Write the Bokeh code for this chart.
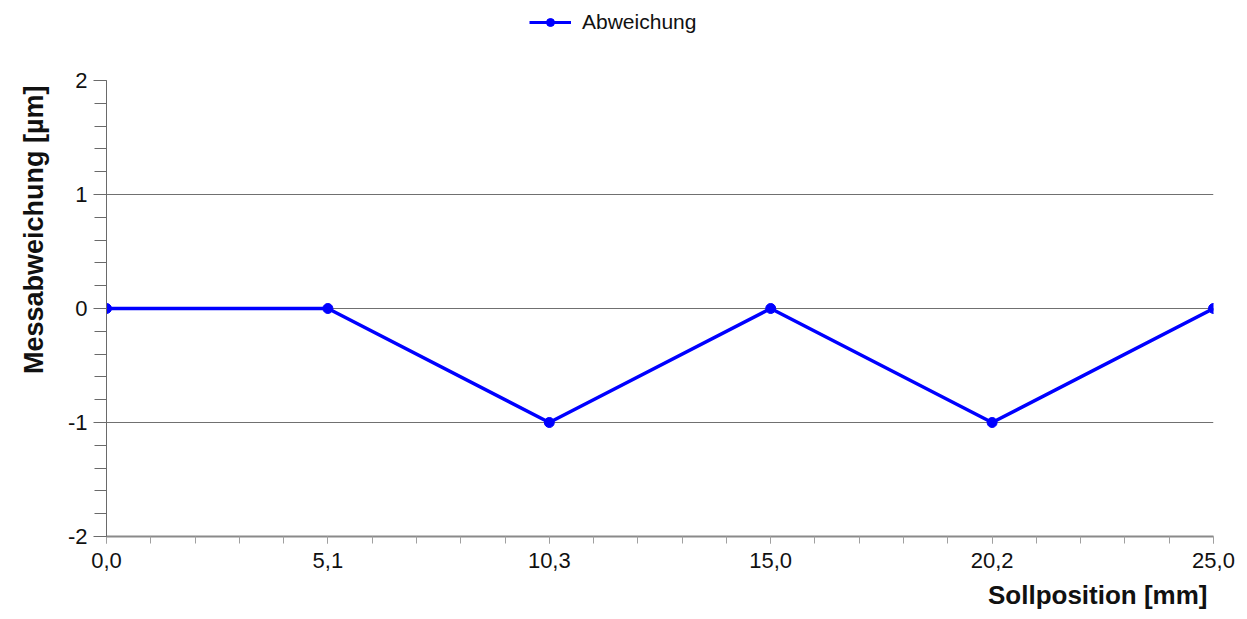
from bokeh.plotting import figure
from bokeh.layouts import column
from bokeh.models import (Legend, LegendItem, FixedTicker, Title, Range1d)
from bokeh.embed import file_html
from bokeh.resources import INLINE

# data
positions = ["0,0", "5,1", "10,3", "15,0", "20,2", "25,0"]
deviation = [0, 0, -1, 0, -1, 0]
y_ticks = [-2, -1, 0, 1, 2]
y_tick_labels = ["-2", "-1", "0", "1", "2"]
series_name = "Abweichung"
x_title = "Sollposition [mm]"
y_title = "Messabweichung [µm]"

idx = list(range(len(positions)))
FONT = "Liberation Sans"
BLUE = "#0000FF"
LEG_H = 68

# ---------- main chart ----------
p = figure(width=1247, height=619 - LEG_H, output_backend="svg", toolbar_location=None,
           x_range=Range1d(0, len(positions) - 1), y_range=Range1d(-2, 2),
           min_border_left=106, min_border_right=34, min_border_top=12, min_border_bottom=83)
p.outline_line_color = None
p.background_fill_color = "white"

p.line(idx, deviation, line_color=BLUE, line_width=3.5)
p.scatter(idx, deviation, size=10, fill_color=BLUE, line_color=BLUE)

# x axis
xa = p.xaxis[0]
xa.ticker = FixedTicker(ticks=idx, minor_ticks=[i / 5 for i in range(0, 5 * (len(idx) - 1) + 1)])
xa.major_label_overrides = {i: s for i, s in zip(idx, positions)}
xa.axis_line_color = "#8a8a8a"
xa.axis_line_width = 2
xa.major_tick_line_color = "#a0a0a0"
xa.minor_tick_line_color = "#a0a0a0"
xa.major_tick_out = 7
xa.major_tick_in = 0
xa.minor_tick_out = 7
xa.minor_tick_in = 0
xa.major_label_text_font = FONT
xa.major_label_text_font_size = "22px"
xa.major_label_text_color = "#111111"
xa.major_label_standoff = 9

# y axis
ya = p.yaxis[0]
ya.ticker = FixedTicker(ticks=y_ticks, minor_ticks=[-2 + i * 0.2 for i in range(21)])
ya.major_label_overrides = {t: s for t, s in zip(y_ticks, y_tick_labels)}
ya.axis_line_color = "#6a6a6a"
ya.axis_line_width = 1
ya.major_tick_line_color = "#6a6a6a"
ya.minor_tick_line_color = "#6a6a6a"
ya.major_tick_out = 13
ya.major_tick_in = 0
ya.minor_tick_out = 12
ya.minor_tick_in = 0
ya.major_label_text_font = FONT
ya.major_label_text_font_size = "22px"
ya.major_label_text_color = "#111111"
ya.major_label_standoff = 6

# grid
p.xgrid.grid_line_color = None
p.ygrid.ticker = FixedTicker(ticks=y_ticks)
p.ygrid.grid_line_color = "#707070"
p.ygrid.grid_line_width = 1

# axis titles as end-aligned titles
p.add_layout(Title(text=x_title, align="right", text_font=FONT, text_font_size="26px",
                   text_font_style="bold", text_color="#111111", offset=6, standoff=14), "below")
p.add_layout(Title(text=y_title, align="right", text_font=FONT, text_font_size="27px",
                   text_font_style="bold", text_color="#111111", offset=5, standoff=31), "left")

# ---------- legend strip (series drawn off-screen, only its legend entry shows) ----------
lg = figure(width=1247, height=LEG_H, output_backend="svg", toolbar_location=None,
            x_range=Range1d(0, 1), y_range=Range1d(10, 11),
            x_axis_location=None, y_axis_location=None, min_border=0)
lg.outline_line_color = None
lg.xgrid.grid_line_color = None
lg.ygrid.grid_line_color = None
ln = lg.line(idx, deviation, line_color=BLUE, line_width=3)
pt = lg.scatter(idx, deviation, size=10, fill_color=BLUE, line_color=BLUE)
legend = Legend(items=[LegendItem(label=series_name, renderers=[ln, pt])],
                location=(419, 30), orientation="horizontal",
                border_line_alpha=0, background_fill_alpha=0,
                label_text_font=FONT, label_text_font_size="21px", label_text_color="#111111",
                glyph_width=42, glyph_height=20, padding=4, margin=0, spacing=0,
                label_standoff=11)
lg.add_layout(legend, "center")

layout = column(lg, p, spacing=0)
open("out.html", "w").write(file_html(layout, INLINE))
